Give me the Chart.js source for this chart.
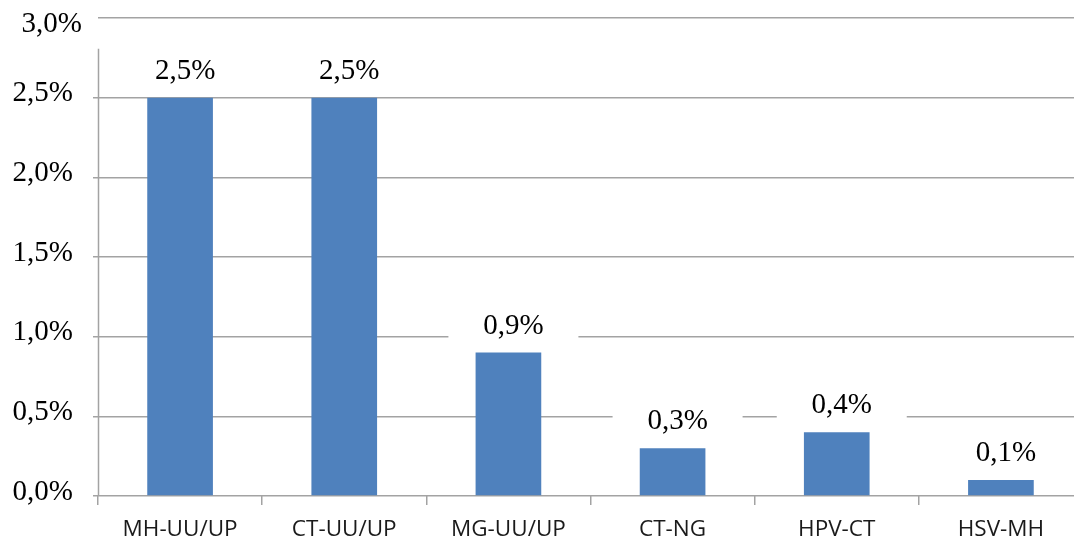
<!DOCTYPE html>
<html>
<head>
<meta charset="utf-8">
<script src="https://cdn.jsdelivr.net/npm/chart.js@4.4.0/dist/chart.umd.min.js"></script>
<style>
  html, body { margin: 0; padding: 0; background: #fff; overflow: hidden; width: 1074px; height: 541px; }
  canvas { display: block; }
</style>
</head>
<body>
<canvas id="c" width="1090" height="541"></canvas>
<script>
// Co-infection pairs and their share of samples (%)
const categories = ['MH-UU/UP', 'CT-UU/UP', 'MG-UU/UP', 'CT-NG', 'HPV-CT', 'HSV-MH'];
const shares = [2.5, 2.5, 0.9, 0.3, 0.4, 0.1];
const yTicks = [0, 0.5, 1.0, 1.5, 2.0, 2.5, 3.0];

const fmt = v => v.toFixed(1).replace('.', ',') + '%';
const SERIF = '"Liberation Serif", "Times New Roman", serif';
const SANS = '"Open Sans", "Liberation Sans", sans-serif';
const GRID = '#A3A3A3';
const TOP = yTicks[yTicks.length - 1];

// Value labels above each bar, on a white box that hides the gridlines behind it
const valueLabels = {
  id: 'valueLabels',
  afterDatasetsDraw(chart) {
    const ctx = chart.ctx;
    const meta = chart.getDatasetMeta(0);
    ctx.save();
    ctx.font = '29px ' + SERIF;
    ctx.textAlign = 'center';
    ctx.textBaseline = 'alphabetic';
    meta.data.forEach((bar, i) => {
      const cx = bar.x + 5;
      const base = bar.y - 19;
      ctx.fillStyle = '#fff';
      ctx.fillRect(cx - 65, base - 30, 130, 38);
      ctx.fillStyle = '#000';
      ctx.fillText(fmt(shares[i]), cx, base);
    });
    ctx.restore();
  }
};

// Vertical axis line and the top tick label
const axisExtras = {
  id: 'axisExtras',
  afterDraw(chart) {
    const y = chart.scales.y;
    const ctx = chart.ctx;
    const x0 = Math.round(chart.chartArea.left) + 0.5;
    ctx.save();
    ctx.strokeStyle = GRID;
    ctx.lineWidth = 1.5;
    ctx.beginPath();
    ctx.moveTo(x0, y.getPixelForValue(2.5) - 49);
    ctx.lineTo(x0, y.getPixelForValue(0));
    ctx.stroke();
    ctx.font = '29px ' + SERIF;
    ctx.fillStyle = '#000';
    ctx.textAlign = 'right';
    ctx.textBaseline = 'middle';
    ctx.fillText(fmt(TOP), chart.chartArea.left - 16, y.getPixelForValue(TOP) + 6);
    ctx.restore();
  }
};

new Chart(document.getElementById('c'), {
  type: 'bar',
  data: {
    labels: categories,
    datasets: [{
      data: shares,
      backgroundColor: '#4F81BD',
      borderWidth: 0,
      barPercentage: 0.4,
      categoryPercentage: 1.0
    }]
  },
  options: {
    responsive: false,
    animation: false,
    devicePixelRatio: 1,
    layout: { padding: { top: 18, right: 7, left: 0, bottom: 0 } },
    plugins: { legend: { display: false }, tooltip: { enabled: false } },
    scales: {
      x: {
        grid: {
          display: true,
          drawOnChartArea: false,
          drawTicks: true,
          tickLength: 9,
          tickColor: GRID,
          lineWidth: 1.5,
          offset: true
        },
        border: { display: false },
        ticks: {
          font: { family: SANS, size: 22.5 },
          color: '#1a1a1a',
          padding: 11,
          maxRotation: 0
        },
        afterFit(scale) { scale.height = 45; scale.paddingLeft = 0; scale.paddingRight = 0; }
      },
      y: {
        min: 0,
        max: TOP,
        afterBuildTicks(scale) { scale.ticks = yTicks.map(v => ({ value: v })); },
        grid: {
          color: GRID,
          tickColor: ctx => ctx.tick && ctx.tick.value === TOP ? 'rgba(0,0,0,0)' : GRID,
          lineWidth: 1.5,
          tickLength: 5
        },
        border: { display: false },
        ticks: {
          font: { family: SERIF, size: 29 },
          color: ctx => ctx.tick && ctx.tick.value === TOP ? 'rgba(0,0,0,0)' : '#000',
          padding: 20,
          labelOffset: -4,
          callback: v => fmt(v)
        },
        afterFit(scale) { scale.width = 98; scale.paddingTop = 0; scale.paddingBottom = 0; }
      }
    }
  },
  plugins: [valueLabels, axisExtras]
});
</script>
</body>
</html>
